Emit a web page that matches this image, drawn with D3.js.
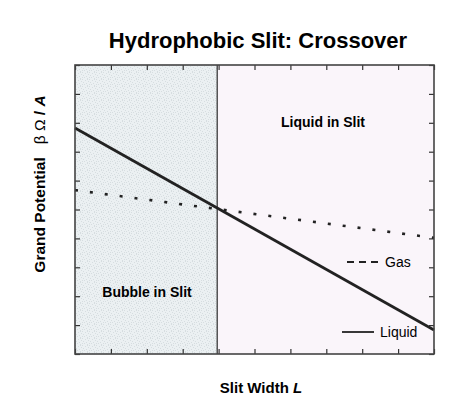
<!DOCTYPE html>
<html>
<head>
<meta charset="utf-8">
<script src="https://cdn.jsdelivr.net/npm/d3@7"></script>
<style>
  body { margin: 0; background: #fff; }
  text { font-family: "Liberation Sans", Arial, sans-serif; }
</style>
</head>
<body>
<svg id="chart" width="459" height="397"></svg>
<script>
// slit width (arbitrary units), grand potential (arbitrary units)
var widths = [0, 10];
var liquid = [7.82, 0.83];
var gas = [5.67, 4.02];
var crossover = 3.96;
var xTicks = d3.range(0, 11);
var yTicks = d3.range(0, 11);

var svg = d3.select("#chart"),
	margin = {top: 65, right: 25, bottom: 43, left: 75},
	width = +svg.attr("width") - margin.left - margin.right,
	height = +svg.attr("height") - margin.top - margin.bottom;

var x = d3.scaleLinear().domain([0, 10]).range([0, width]);
var y = d3.scaleLinear().domain([0, 10]).range([height, 0]);

// stipple for the bubble region (fixed speckle layout in a 7x7 tile)
var defs = svg.append("defs");
var pat = defs.append("pattern")
	.attr("id", "stipple")
	.attr("width", 7).attr("height", 7)
	.attr("patternUnits", "userSpaceOnUse");
pat.append("rect").attr("width", 7).attr("height", 7).attr("fill", "#ebf0f2");
[[0, 0], [3, 1], [6, 2], [1, 3], [4, 4], [2, 5], [5, 6], [5, 0], [0, 5]].forEach(function(p) {
	pat.append("rect").attr("x", p[0]).attr("y", p[1])
		.attr("width", 1).attr("height", 1).attr("fill", "#d6dde0");
});

var g = svg.append("g").attr("transform", "translate(" + margin.left + "," + margin.top + ")");

g.append("rect")
	.attr("x", 0).attr("y", 0)
	.attr("width", x(crossover)).attr("height", height)
	.attr("fill", "url(#stipple)");
g.append("rect")
	.attr("x", x(crossover)).attr("y", 0)
	.attr("width", width - x(crossover)).attr("height", height)
	.attr("fill", "#faf5fa");

// inward ticks on all four sides
function styleAxis(sel) {
	sel.select(".domain").remove();
	sel.selectAll("text").remove();
	sel.selectAll("line").attr("stroke", "#333").attr("stroke-width", 1.2);
}
g.append("g").attr("transform", "translate(0," + height + ")")
	.call(d3.axisTop(x).tickValues(xTicks).tickSize(5)).call(styleAxis);
g.append("g")
	.call(d3.axisBottom(x).tickValues(xTicks).tickSize(5)).call(styleAxis);
g.append("g")
	.call(d3.axisRight(y).tickValues(yTicks).tickSize(5)).call(styleAxis);
g.append("g").attr("transform", "translate(" + width + ",0)")
	.call(d3.axisLeft(y).tickValues(yTicks).tickSize(5)).call(styleAxis);

// divider at crossover
g.append("line")
	.attr("x1", x(crossover)).attr("x2", x(crossover))
	.attr("y1", 0).attr("y2", height)
	.attr("stroke", "#000").attr("stroke-width", 1);

var line = d3.line()
	.x(function(d) { return x(d[0]); })
	.y(function(d) { return y(d[1]); });

g.append("path")
	.datum(d3.zip(widths, gas))
	.attr("d", line)
	.attr("fill", "none")
	.attr("stroke", "#222")
	.attr("stroke-width", 2.6)
	.attr("stroke-dasharray", "3,12")
	.attr("stroke-dashoffset", -15);

g.append("path")
	.datum(d3.zip(widths, liquid))
	.attr("d", line)
	.attr("fill", "none")
	.attr("stroke", "#222")
	.attr("stroke-width", 2.8);

// frame
g.append("rect")
	.attr("width", width).attr("height", height)
	.attr("fill", "none")
	.attr("stroke", "#444").attr("stroke-width", 1.6);

// region labels
g.append("text")
	.attr("x", 248).attr("y", 62)
	.attr("text-anchor", "middle")
	.attr("font-size", 14).attr("font-weight", "bold")
	.text("Liquid in Slit");
g.append("text")
	.attr("x", 72).attr("y", 232)
	.attr("text-anchor", "middle")
	.attr("font-size", 14).attr("font-weight", "bold")
	.text("Bubble in Slit");

// legend
var legend = [
	{name: "Gas", dash: "7,5", x1: 272, y: 197},
	{name: "Liquid", dash: null, x1: 267, y: 267}
];
legend.forEach(function(d) {
	g.append("line")
		.attr("x1", d.x1).attr("x2", d.x1 + 32)
		.attr("y1", d.y).attr("y2", d.y)
		.attr("stroke", "#222").attr("stroke-width", 1.8)
		.attr("stroke-dasharray", d.dash);
	g.append("text")
		.attr("x", d.x1 + 38).attr("y", d.y + 5)
		.attr("font-size", 14)
		.text(d.name);
});

// title and axis labels
svg.append("text")
	.attr("x", 258).attr("y", 48)
	.attr("text-anchor", "middle")
	.attr("font-size", 22).attr("font-weight", "bold")
	.text("Hydrophobic Slit: Crossover");

var xl = svg.append("text")
	.attr("x", 261).attr("y", 393)
	.attr("text-anchor", "middle")
	.attr("font-size", 15).attr("font-weight", "bold");
xl.append("tspan").text("Slit Width ");
xl.append("tspan").attr("font-style", "italic").text("L");

var yl = svg.append("text")
	.attr("transform", "translate(45,184) rotate(-90)")
	.attr("text-anchor", "middle")
	.attr("font-size", 15.5).attr("font-weight", "bold");
yl.append("tspan").text("Grand Potential\u00a0\u00a0\u00a0");
yl.append("tspan").attr("font-weight", "normal").text("\u03b2 \u03a9 ");
yl.append("tspan").text("/ ");
yl.append("tspan").attr("font-style", "italic").text("A");
</script>
</body>
</html>
